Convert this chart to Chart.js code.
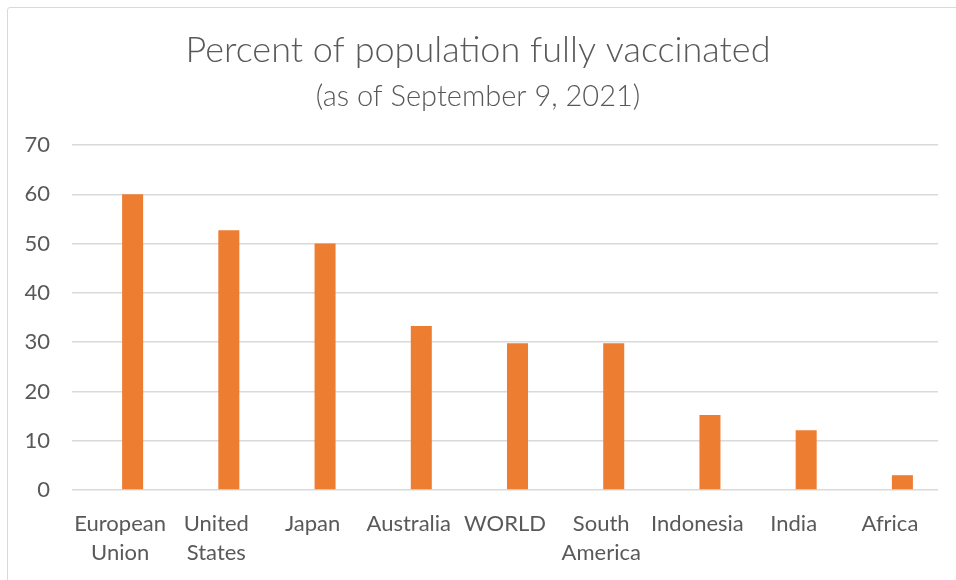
<!DOCTYPE html>
<html>
<head>
<meta charset="utf-8">
<script src="https://cdn.jsdelivr.net/npm/chart.js@4"></script>
<style>
  html, body { margin: 0; padding: 0; background: #fff; overflow: hidden; }
  #wrap { position: relative; width: 956px; height: 580px; }
  #frame { position: absolute; left: 7px; top: 7px; width: 980px; height: 600px; border: 1.5px solid #d9d9d9; border-radius: 3px; }
  canvas { position: absolute; left: 0; top: 0; }
</style>
</head>
<body>
<div id="wrap">
  <div id="frame"></div>
  <canvas id="chart" width="956" height="580"></canvas>
</div>
<script>
const categories = [
  ['European', 'Union'], ['United', 'States'], 'Japan', 'Australia', 'WORLD',
  ['South', 'America'], 'Indonesia', 'India', 'Africa'
];
const fullyVaccinated = [60, 52.7, 50, 33.3, 29.8, 29.8, 15.2, 12.1, 3.0];
const yTicks = [0, 10, 20, 30, 40, 50, 60, 70];

const textColor = '#595959';
const gridColor = '#d9d9d9';
const barColor = '#ed7d31';
const font = 'Lato, "Open Sans", sans-serif';

new Chart(document.getElementById('chart'), {
  type: 'bar',
  data: {
    labels: categories,
    datasets: [
      // empty series kept ahead of the real one, so bars sit right of center
      { label: '', data: [], backgroundColor: 'transparent' },
      { label: 'Percent fully vaccinated', data: fullyVaccinated, backgroundColor: barColor }
    ]
  },
  options: {
    responsive: false,
    animation: false,
    categoryPercentage: 0.52,
    barPercentage: 0.84,
    layout: { padding: { left: 18, right: 18, top: 0, bottom: 0 } },
    plugins: {
      legend: { display: false },
      tooltip: { enabled: false },
      title: {
        display: true,
        text: 'Percent of population fully vaccinated',
        color: textColor,
        font: { family: font, size: 36, weight: '300' },
        padding: { top: 29, bottom: 0 }
      },
      subtitle: {
        display: true,
        text: '(as of September 9, 2021)',
        color: textColor,
        font: { family: font, size: 29, weight: '300' },
        padding: { top: 7, bottom: 31 }
      }
    },
    scales: {
      x: {
        grid: { display: false },
        border: { display: false },
        ticks: {
          color: textColor,
          font: { family: font, size: 22, lineHeight: 1.32 },
          padding: 11,
          maxRotation: 0,
          autoSkip: false
        },
        afterFit: (scale) => { scale.height = 90; }
      },
      y: {
        min: 0,
        max: 70,
        afterBuildTicks: (scale) => { scale.ticks = yTicks.map(v => ({ value: v })); },
        grid: { color: gridColor, lineWidth: 1.5, drawTicks: false },
        border: { display: false },
        ticks: {
          color: textColor,
          font: { family: font, size: 22 },
          padding: 22
        },
        afterFit: (scale) => { scale.width = 54; }
      }
    }
  }
});
</script>
</body>
</html>
